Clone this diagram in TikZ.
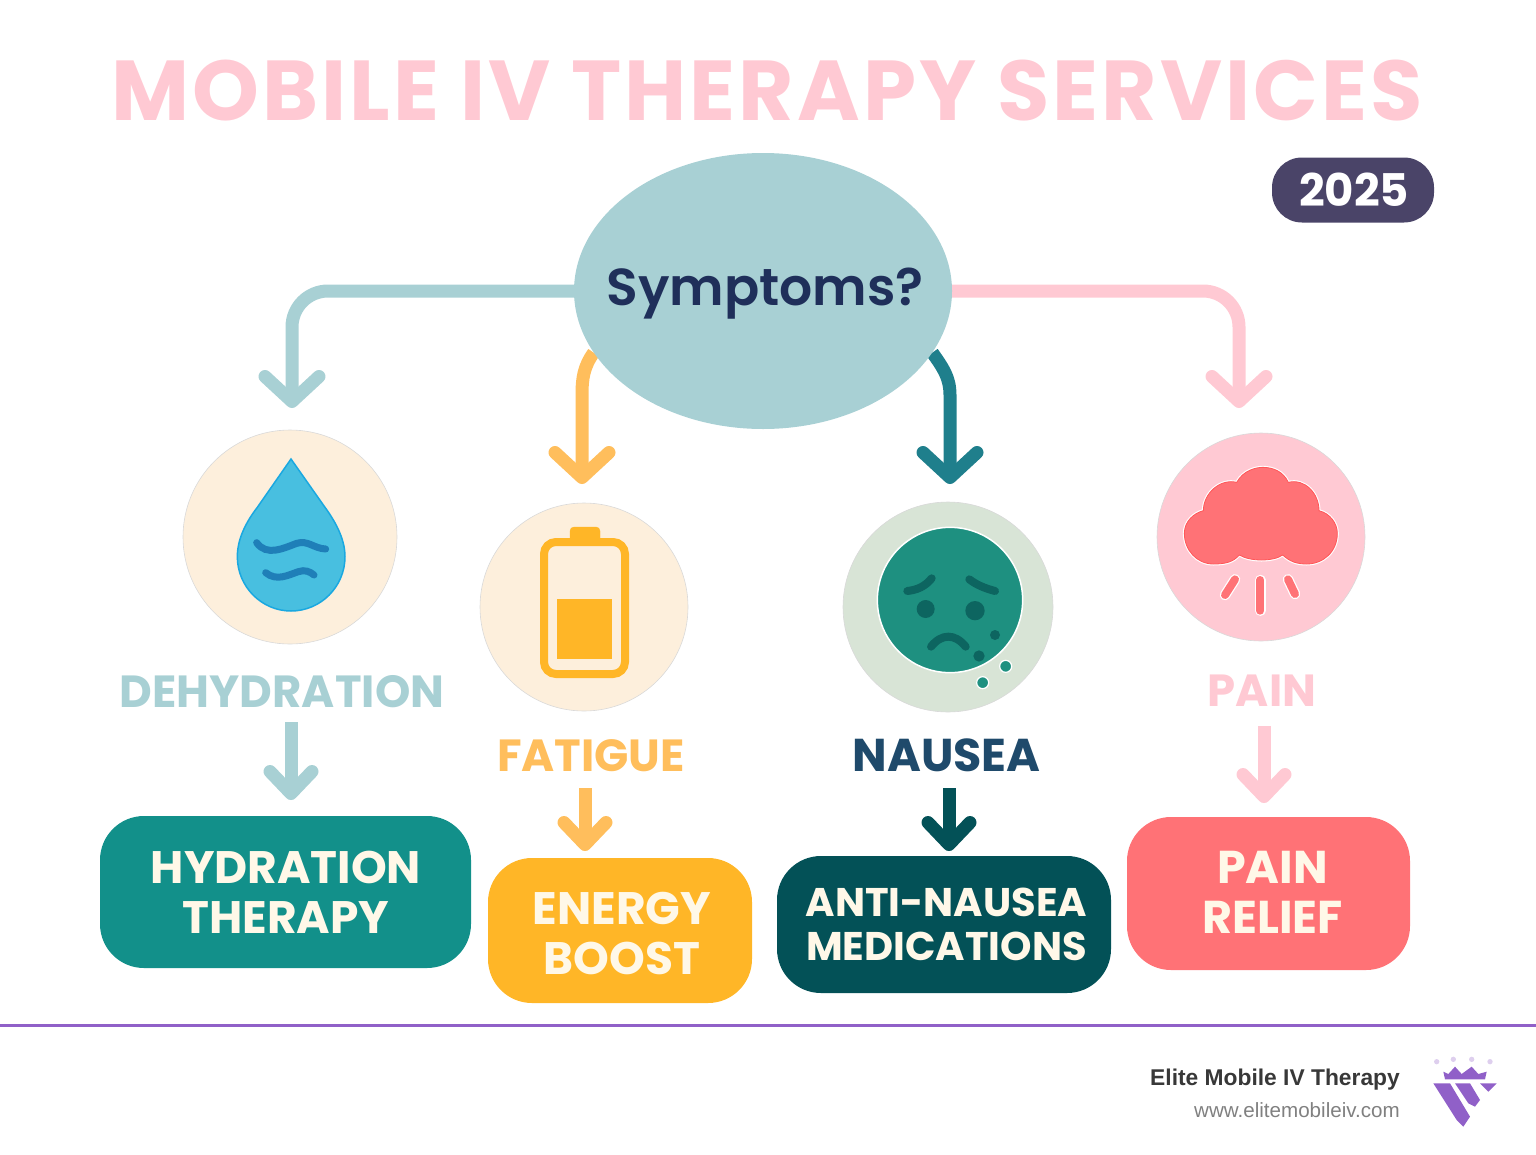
\documentclass[tikz,border=0pt]{standalone}
\usepackage{fontspec}
\usepackage{tikz}
\usetikzlibrary{arrows.meta,shapes.geometric,backgrounds}

\setmainfont{Poppins}
\newfontfamily\footfont{Liberation Sans}
\newfontfamily\titlefont[LetterSpace=3.6]{Poppins}
\newfontfamily\midfont{Poppins SemiBold}

\definecolor{aqua}{HTML}{A8D0D4}
\definecolor{rose}{HTML}{FFC9D3}
\definecolor{amber}{HTML}{FFBE5C}
\definecolor{sea}{HTML}{1F7F8C}
\definecolor{navy}{HTML}{1F4A6B}
\definecolor{ink}{HTML}{1F2F5A}
\definecolor{plum}{HTML}{4A4468}
\definecolor{cream}{HTML}{FDEFDC}
\definecolor{sage}{HTML}{D8E4D6}
\definecolor{teal}{HTML}{12908A}
\definecolor{gold}{HTML}{FFB627}
\definecolor{deep}{HTML}{035157}
\definecolor{coral}{HTML}{FF7276}
\definecolor{ivory}{HTML}{FFF8E8}
\definecolor{violet}{HTML}{9060C8}
\definecolor{drop}{HTML}{48BFE0}
\definecolor{dropedge}{HTML}{1AA8E0}
\definecolor{wave}{HTML}{1F7FB8}
\definecolor{face}{HTML}{1E9080}
\definecolor{frown}{HTML}{0D6560}

\tikzset{
  flowarrow/.style={line width=13pt,-{Straight Barb[length=25pt,width=54pt,round]}},
  shortarrow/.style={line width=13pt,-{Straight Barb[length=22pt,width=42pt,round]}},
  iconcircle/.style={circle,draw=black!15,line width=.6pt,inner sep=0pt},
  symptomlabel/.style={font=\bfseries\fontsize{45}{45}\selectfont,text height=32pt,text depth=0pt,inner sep=0pt},
  therapybox/.style={rectangle,rounded corners=44pt,inner sep=0pt},
  therapytext/.style={inner sep=0pt,text=ivory,align=center,font=\bfseries\fontsize{45.5}{50}\selectfont},
}

\begin{document}
\begin{tikzpicture}[x=1pt,y=-1pt]

      \useasboundingbox (0,0) rectangle (1536,1154);

      \node (Title) [text=rose,inner sep=0pt,font=\titlefont\bfseries\fontsize{85}{85}\selectfont] at (767,91) {MOBILE IV THERAPY SERVICES};
      \node (Year) [fill=plum,text=white,rectangle,rounded corners=30pt,minimum width=162pt,minimum height=65pt,inner sep=0pt,font=\bfseries\fontsize{45}{45}\selectfont] at (1353,190) {\hspace*{2pt}2025};
      \node (Symptoms) [ellipse,fill=aqua,minimum width=378pt,minimum height=276pt,inner sep=0pt] at (763,291) {};
      \node (SymptomsText) [text=ink,inner sep=0pt,font=\midfont\fontsize{52}{52}\selectfont,xshift=2pt,yshift=-3pt] at (Symptoms) {Symptoms?};

      %% icons
      \node (DehydrationIcon) [iconcircle,fill=cream,minimum size=214pt] at (290,537) {};
      \node (FatigueIcon) [iconcircle,fill=cream,minimum size=208pt,node distance=294pt,right of=DehydrationIcon,yshift=-70pt] {};
      \node (NauseaIcon) [iconcircle,fill=sage,minimum size=210pt,node distance=364pt,right of=FatigueIcon] {};
      \node (PainIcon) [iconcircle,fill=rose,minimum size=208pt,node distance=971pt,right of=DehydrationIcon] {};

      \node (Dehydration) [symptomlabel,text=aqua,node distance=154pt,below of=DehydrationIcon,xshift=-8pt] {DEHYDRATION};
      \node (Fatigue) [symptomlabel,text=amber,node distance=148pt,below of=FatigueIcon,xshift=7pt] {FATIGUE};
      \node (Nausea) [symptomlabel,text=navy,font=\bfseries\fontsize{46}{46}\selectfont,node distance=148pt,below of=NauseaIcon,xshift=-1.5pt] {NAUSEA};
      \node (Pain) [symptomlabel,text=rose,node distance=153pt,below of=PainIcon,xshift=1pt] {PAIN};

      \node (Hydration) [therapybox,fill=teal,minimum width=371pt,minimum height=152pt] at (285.5,892) {};
      \node (HydrationText) [therapytext,xshift=.5pt] at (Hydration) {HYDRATION\\THERAPY};
      \node (Energy) [therapybox,fill=gold,minimum width=264pt,minimum height=145pt] at (620,930.5) {};
      \node (EnergyText) [therapytext,xshift=2pt,yshift=-3pt] at (Energy) {ENERGY\\BOOST};
      \node (AntiNausea) [therapybox,fill=deep,minimum width=334pt,minimum height=137pt] at (944,924.5) {};
      \node (AntiNauseaText) [therapytext,font=\bfseries\fontsize{40}{44}\selectfont,xshift=2.5pt] at (AntiNausea) {ANTI-NAUSEA\\MEDICATIONS};
      \node (Relief) [therapybox,fill=coral,minimum width=283pt,minimum height=153pt] at (1268.5,893.5) {};
      \node (ReliefText) [therapytext,font=\bfseries\fontsize{46}{50}\selectfont,xshift=4pt,yshift=1pt] at (Relief) {PAIN\\RELIEF};

      \coordinate (DehydrationIn) at (292,408);
      \coordinate (FatigueBend) at (582,395);
      \coordinate (FatigueIn) at (582,484);
      \coordinate (NauseaBend) at (950,395);
      \coordinate (NauseaIn) at (950,484);
      \coordinate (PainIn) at (1239,408);

      \begin{scope}[on background layer]
        \draw[flowarrow,aqua,rounded corners=36pt] (Symptoms.west) -| (DehydrationIn);
        \draw[flowarrow,rose,rounded corners=36pt] (Symptoms.east) -| (PainIn);
        \draw[flowarrow,amber] (Symptoms.200) to[out=235,in=90] (FatigueBend) -- (FatigueIn);
        \draw[flowarrow,sea] (Symptoms.-20) to[out=-55,in=90] (NauseaBend) -- (NauseaIn);
      \end{scope}

      \coordinate (HydrationOut) at (291,722);
      \coordinate (HydrationIn) at (291,800);
      \coordinate (EnergyOut) at (585,788);
      \coordinate (EnergyIn) at (585,851);
      \coordinate (AntiOut) at (949,788);
      \coordinate (AntiIn) at (949,851);
      \coordinate (ReliefOut) at (1264,726);
      \coordinate (ReliefIn) at (1264,803);
      \draw[shortarrow,aqua] (HydrationOut) -- (HydrationIn);
      \draw[shortarrow,amber] (EnergyOut) -- (EnergyIn);
      \draw[shortarrow,deep] (AntiOut) -- (AntiIn);
      \draw[shortarrow,rose] (ReliefOut) -- (ReliefIn);

      %% drop
      \begin{scope}[shift={(170,420)},scale=1/3]
        \draw[fill=drop,draw=dropedge,line width=1.5pt] (363,117) -- (262,262) .. controls (225,310) and (202,360) .. (202,410)
          .. controls (202,500) and (275,573) .. (363,573) .. controls (452,573) and (525,500) .. (525,410)
          .. controls (525,360) and (500,310) .. (465,262) -- cycle;
        \draw[wave,line width=7pt,line cap=round] (260,368) .. controls (290,410) and (340,385) .. (380,370) .. controls (415,360) and (430,385) .. (467,387);
        \draw[wave,line width=7pt,line cap=round] (287,458) .. controls (320,485) and (355,465) .. (385,455) .. controls (405,448) and (420,455) .. (432,465);
      \end{scope}

      %% battery
      \draw[gold,fill=gold] (570,538) -- (570,531) to[out=90,in=180] (574,527) -- (596,527) to[out=0,in=90] (600,531) -- (600,538) -- cycle;
      \draw[gold,line width=8pt,rounded corners=12pt] (544,542) rectangle (625,674);
      \fill[gold] (557,599) rectangle (612,659);

      %% face
      \begin{scope}[shift={(830,490)},scale=1/3]
        \draw[white,fill=face,line width=1.5pt] (360,330) circle (218);
        \fill[frown] (287,357) circle (27);
        \fill[frown] (435,362) circle (29);
        \draw[frown,line width=8pt,line cap=round] (232,303) .. controls (260,300) and (285,290) .. (305,265);
        \draw[frown,line width=8pt,line cap=round] (418,268) .. controls (440,285) and (465,295) .. (495,303);
        \draw[frown,line width=8pt,line cap=round] (303,470) .. controls (335,430) and (375,430) .. (407,470);
        \fill[frown] (495,435) circle (15);
        \fill[frown] (447,498) circle (17);
        \draw[white,fill=face,line width=1.2pt] (527,529) circle (18);
        \draw[white,fill=face,line width=1.2pt] (458,578) circle (18);
      \end{scope}

      %% cloud
      \begin{scope}[shift={(1140,420)},scale=1/3]
        \draw[preaction={draw=white,line width=3pt},draw=red!25!coral,fill=coral,line width=.8pt] (190,272) .. controls (190,220) and (240,175) .. (290,187)
          .. controls (310,150) and (350,142) .. (368,142) .. controls (400,142) and (430,155) .. (445,187)
          .. controls (495,175) and (537,220) .. (537,272) .. controls (570,280) and (592,310) .. (592,340)
          .. controls (592,395) and (550,432) .. (500,432) .. controls (470,432) and (450,425) .. (428,405)
          .. controls (400,425) and (330,425) .. (298,405) .. controls (280,425) and (260,432) .. (220,432)
          .. controls (170,432) and (133,390) .. (133,340) .. controls (133,305) and (160,280) .. (190,272) -- cycle;
        \foreach \ax/\ay/\bx/\by in {285/478/255/525,361/480/361/572,444/478/465/522}{
          \draw[white,line width=10.5pt,line cap=round] (\ax,\ay) -- (\bx,\by);
          \draw[coral,line width=8pt,line cap=round] (\ax,\ay) -- (\bx,\by);
        }
      \end{scope}

      %% footer
      \coordinate (RuleLeft) at (0,1025);
      \coordinate (RuleRight) at (1536,1025);
      \draw[violet,line width=3pt] (RuleLeft) -- (RuleRight);
      \node (Brand) [anchor=east,inner sep=0pt,text=black!78,font=\footfont\bfseries\fontsize{22.8}{24}\selectfont] at (1400,1080) {Elite Mobile IV Therapy};
      \node (Site) [anchor=east,inner sep=0pt,text=black!50,font=\footfont\fontsize{20.6}{21}\selectfont] at (1400,1110) {www.elitemobileiv.com};

      \begin{scope}[shift={(1100,1020)},scale=1/3]
        \fill[violet] (1035,178) -- (1030,155) -- (1045,162) -- (1065,140) -- (1085,162) -- (1115,140) -- (1135,162) -- (1160,155) -- (1155,178) -- cycle;
        \fill[violet!30] (1010,125) circle (8) (1060,118) circle (8) (1115,118) circle (8) (1170,125) circle (8);
        \fill[violet] (1000,190) -- (1050,190) -- (1110,290) -- (1090,320) -- (1070,300) -- cycle;
        \fill[violet] (1065,190) -- (1110,190) -- (1140,240) -- (1125,260) -- (1105,250) -- cycle;
        \fill[violet] (1140,190) -- (1190,190) -- (1165,215) -- cycle;
      \end{scope}

\end{tikzpicture}
\end{document}
